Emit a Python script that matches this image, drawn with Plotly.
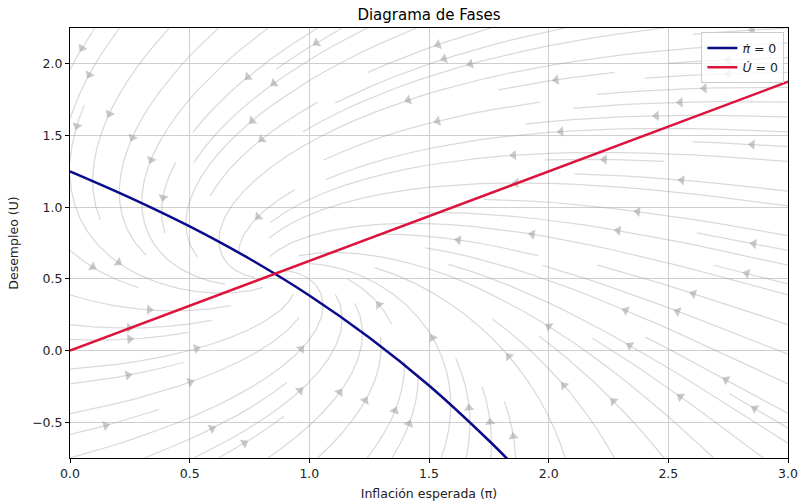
import numpy as np
import plotly.graph_objects as go

# Nullcline readings: (expected inflation, unemployment)
pi_blue = [0.0, 0.25, 0.5, 0.75, 1.0, 1.25, 1.5, 1.75, 1.85]
u_blue = [1.25, 1.067, 0.866, 0.640, 0.384, 0.091, -0.244, -0.628, -0.796]
pi_red = [0.0, 3.0]
u_red = [0.0, 1.875]

x_ticks = [0.0, 0.5, 1.0, 1.5, 2.0, 2.5, 3.0]
y_ticks = [-0.5, 0.0, 0.5, 1.0, 1.5, 2.0]
x_range = [0.0, 3.0]
y_range = [-0.75, 2.25]

# Phase-plane dynamics built from the two nullclines
blue_poly = np.polyfit(pi_blue, u_blue, 3)
red_poly = np.polyfit(pi_red, u_red, 1)
speed_ratio = 1.2

N = 100
xs = np.linspace(x_range[0], x_range[1], N)
ys = np.linspace(y_range[0], y_range[1], N)
XX, YY = np.meshgrid(xs, ys)
UU = np.polyval(blue_poly, XX) - YY                 # d(pi)/dt
VV = speed_ratio * (np.polyval(red_poly, XX) - YY)  # dU/dt


# ---- streamline integration (same scheme as matplotlib's streamplot) ----
class OutOfBounds(Exception):
    pass


class Terminate(Exception):
    pass


class InvalidIndex(Exception):
    pass


def streamlines(x, y, u, v, density=1.0, minlength=0.1, maxlength=4.0):
    gny, gnx = u.shape
    dx = x[1] - x[0]
    dy = y[1] - y[0]
    mnx = mny = int(30 * density)
    mask = np.zeros((mny, mnx), dtype=int)
    state = {"traj": [], "cur": None}
    xg2m = (mnx - 1) / (gnx - 1)
    yg2m = (mny - 1) / (gny - 1)

    def within(xi, yi):
        return 0 <= xi <= gnx - 1 and 0 <= yi <= gny - 1

    def g2m(xi, yi):
        return int(round(xi * xg2m)), int(round(yi * yg2m))

    def upd(xm, ym):
        if state["cur"] != (xm, ym):
            if mask[ym, xm] == 0:
                state["traj"].append((ym, xm))
                mask[ym, xm] = 1
                state["cur"] = (xm, ym)
            else:
                raise InvalidIndex

    def start(xg, yg):
        state["traj"] = []
        xm, ym = g2m(xg, yg)
        upd(xm, ym)

    def undo():
        for t in state["traj"]:
            mask[t] = 0

    ug = u / dx
    vg = v / dy
    u_ax = ug / (gnx - 1)
    v_ax = vg / (gny - 1)
    speed = np.sqrt(u_ax ** 2 + v_ax ** 2)

    def interp(a, xi, yi):
        ix = int(xi)
        iy = int(yi)
        xn = ix if ix == gnx - 1 else ix + 1
        yn = iy if iy == gny - 1 else iy + 1
        xt = xi - ix
        yt = yi - iy
        a0 = a[iy, ix] * (1 - xt) + a[iy, xn] * xt
        a1 = a[yn, ix] * (1 - xt) + a[yn, xn] * xt
        return a0 * (1 - yt) + a1 * yt

    def fwd(xi, yi):
        if not within(xi, yi):
            raise OutOfBounds
        ds_dt = interp(speed, xi, yi)
        if ds_dt == 0:
            raise Terminate
        dt_ds = 1.0 / ds_dt
        return interp(ug, xi, yi) * dt_ds, interp(vg, xi, yi) * dt_ds

    def bwd(xi, yi):
        a, b = fwd(xi, yi)
        return -a, -b

    def euler(traj, f):
        xi, yi = traj[-1]
        cx, cy = f(xi, yi)
        if cx == 0:
            dsx = np.inf
        elif cx < 0:
            dsx = xi / -cx
        else:
            dsx = (gnx - 1 - xi) / cx
        if cy == 0:
            dsy = np.inf
        elif cy < 0:
            dsy = yi / -cy
        else:
            dsy = (gny - 1 - yi) / cy
        ds = min(dsx, dsy)
        traj.append((xi + cx * ds, yi + cy * ds))
        return ds, traj

    def rk12(x0, y0, f):
        maxerror = 0.003
        maxds = min(1.0 / mnx, 1.0 / mny, 0.1)
        ds = maxds
        stotal = 0.0
        xi, yi = x0, y0
        traj = []
        while True:
            try:
                if within(xi, yi):
                    traj.append((xi, yi))
                else:
                    raise OutOfBounds
                k1x, k1y = f(xi, yi)
                k2x, k2y = f(xi + ds * k1x, yi + ds * k1y)
            except OutOfBounds:
                if traj:
                    ds, traj = euler(traj, f)
                    stotal += ds
                break
            except Terminate:
                break
            dx1, dy1 = ds * k1x, ds * k1y
            dx2, dy2 = ds * 0.5 * (k1x + k2x), ds * 0.5 * (k1y + k2y)
            err = np.hypot((dx2 - dx1) / (gnx - 1), (dy2 - dy1) / (gny - 1))
            if err < maxerror:
                xi += dx2
                yi += dy2
                try:
                    if not within(xi, yi):
                        raise InvalidIndex
                    upd(*g2m(xi, yi))
                except InvalidIndex:
                    break
                if stotal + ds > maxlength:
                    break
                stotal += ds
            ds = maxds if err == 0 else min(maxds, 0.85 * ds * (maxerror / err) ** 0.5)
        return stotal, traj

    def integrate(x0, y0):
        try:
            start(x0, y0)
        except InvalidIndex:
            return None
        s1, t1 = rk12(x0, y0, bwd)
        state["cur"] = g2m(x0, y0)
        s2, t2 = rk12(x0, y0, fwd)
        total = s1 + s2
        traj = t1[::-1] + t2[1:]
        if total > minlength:
            return traj
        undo()
        return None

    def seeds(ny, nx):
        xfirst, yfirst, xlast, ylast = 0, 1, nx - 1, ny - 1
        xx, yy = 0, 0
        d = "right"
        for _ in range(nx * ny):
            yield xx, yy
            if d == "right":
                xx += 1
                if xx >= xlast:
                    xlast -= 1
                    d = "up"
            elif d == "up":
                yy += 1
                if yy >= ylast:
                    ylast -= 1
                    d = "left"
            elif d == "left":
                xx -= 1
                if xx <= xfirst:
                    xfirst += 1
                    d = "down"
            else:
                yy -= 1
                if yy <= yfirst:
                    yfirst += 1
                    d = "right"

    out = []
    for xm, ym in seeds(mny, mnx):
        if mask[ym, xm] == 0:
            xg, yg = xm / xg2m, ym / yg2m
            t = integrate(xg, yg)
            if t is not None and len(t) > 1:
                arr = np.array(t)
                out.append((arr[:, 0] * dx + x[0], arr[:, 1] * dy + y[0]))
    return out


lines = streamlines(xs, ys, UU, VV)

# pixel scale of the plot area, used to orient the arrow heads on screen
W, H = 799, 501
ml, mr, mt, mb = 70, 11, 28, 43
sx = (W - ml - mr) / (x_range[1] - x_range[0])
sy = (H - mt - mb) / (y_range[1] - y_range[0])

lx, ly = [], []
ax_, ay_, ang = [], [], []
for tx, ty in lines:
    lx += list(tx) + [None]
    ly += list(ty) + [None]
    s = np.cumsum(np.hypot(np.diff(tx), np.diff(ty)))
    n = int(np.searchsorted(s, s[-1] / 2.0))
    hx = np.mean(tx[n:n + 2])
    hy = np.mean(ty[n:n + 2])
    ddx = (hx - tx[n]) * sx
    ddy = (hy - ty[n]) * sy
    if ddx == 0 and ddy == 0:
        continue
    ax_.append(hx)
    ay_.append(hy)
    ang.append(float(np.degrees(np.arctan2(ddx, ddy))))

stream_color = "rgba(150,150,150,0.35)"
arrow_color = "rgba(150,150,150,0.5)"
font = "DejaVu Sans, Verdana, sans-serif"

fig = go.Figure()
fig.add_trace(go.Scatter(x=lx, y=ly, mode="lines", showlegend=False,
                         line=dict(color=stream_color, width=1.25),
                         hoverinfo="skip"))
fig.add_trace(go.Scatter(x=ax_, y=ay_, mode="markers", showlegend=False,
                         marker=dict(symbol="triangle-up", size=9, angle=ang,
                                     color=arrow_color, line=dict(width=0)),
                         hoverinfo="skip"))
fig.add_trace(go.Scatter(x=pi_blue, y=u_blue, mode="lines", line_shape="spline",
                         name="<i>π̇</i> = 0",
                         line=dict(color="#0a0a8c", width=2.5)))
fig.add_trace(go.Scatter(x=pi_red, y=u_red, mode="lines",
                         name="<i>U̇</i> = 0",
                         line=dict(color="#dc143c", width=2.5)))

axis_common = dict(showline=True, mirror=True, linecolor="black", linewidth=1,
                   ticks="outside", ticklen=4, tickcolor="black",
                   showgrid=True, gridcolor="#cfcfcf", gridwidth=1,
                   zeroline=False, automargin=False,
                   tickfont=dict(size=12.5, color="#222"),
                   title_font=dict(size=12.5, color="#222"))

fig.update_xaxes(range=x_range, tickvals=x_ticks, tickformat=".1f",
                 title_text="Inflación esperada (π)", title_standoff=12,
                 **axis_common)
fig.update_yaxes(range=y_range, tickvals=y_ticks, tickformat=".1f",
                 title_text="Desempleo (U)", title_standoff=10,
                 **axis_common)

fig.update_layout(
    width=W, height=H,
    margin=dict(l=ml, r=mr, t=mt, b=mb),
    paper_bgcolor="white", plot_bgcolor="white",
    font=dict(family=font, color="#222"),
    title=dict(text="Diagrama de Fases", x=0.5, xref="paper",
               y=1 - 15 / H, yanchor="middle", font=dict(size=15, color="black")),
    legend=dict(x=0.995, y=0.99, xanchor="right", yanchor="top",
                bgcolor="rgba(255,255,255,0.8)", bordercolor="#cccccc",
                borderwidth=1, font=dict(size=12.5), itemwidth=30,
                tracegroupgap=2),
)

fig.write_html("out.html")
